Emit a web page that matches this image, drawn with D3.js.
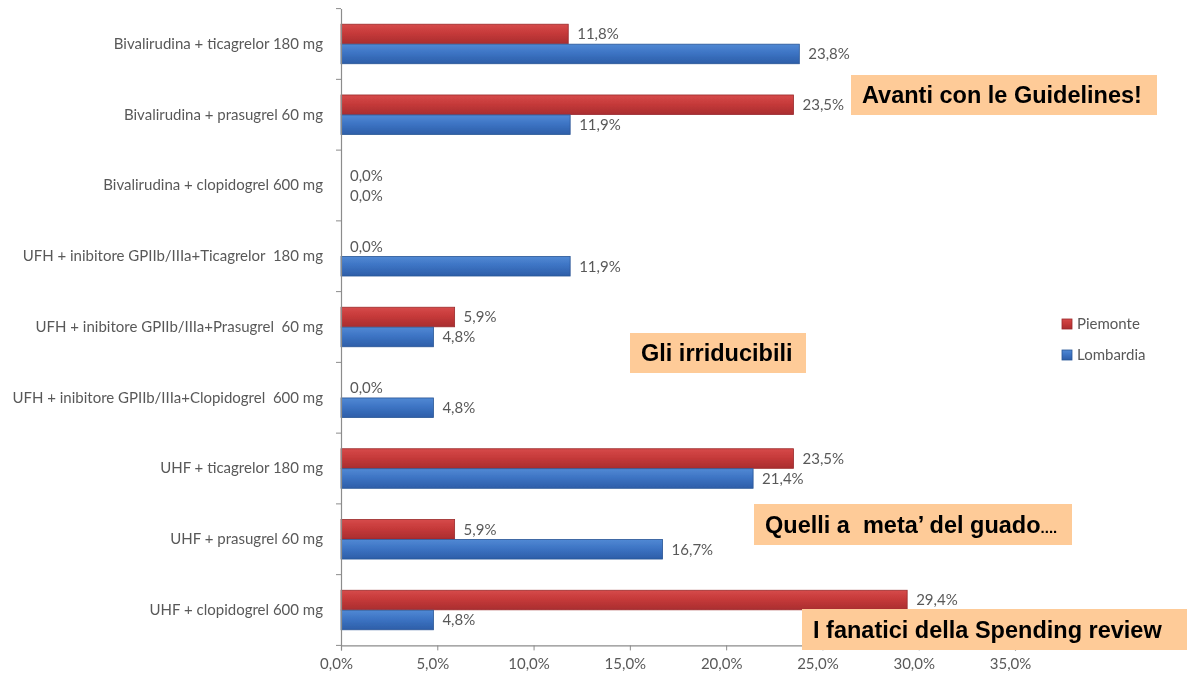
<!DOCTYPE html>
<html>
<head>
<meta charset="utf-8">
<script src="https://cdn.jsdelivr.net/npm/d3@7"></script>
<style>
  html, body { margin: 0; padding: 0; background: #ffffff; }
  svg { display: block; }
</style>
</head>
<body>
<svg id="chart" width="1187" height="678"></svg>
<script>
// Antiplatelet / anticoagulant strategy shares by region (%)
const categories = [
  "Bivalirudina + ticagrelor 180 mg",
  "Bivalirudina + prasugrel 60 mg",
  "Bivalirudina + clopidogrel 600 mg",
  "UFH + inibitore GPIIb/IIIa+Ticagrelor  180 mg",
  "UFH + inibitore GPIIb/IIIa+Prasugrel  60 mg",
  "UFH + inibitore GPIIb/IIIa+Clopidogrel  600 mg",
  "UHF + ticagrelor 180 mg",
  "UHF + prasugrel 60 mg",
  "UHF + clopidogrel 600 mg"
];
const seriesNames = ["Piemonte", "Lombardia"];
const piemonte  = [11.8, 23.5, 0.0, 0.0, 5.9, 0.0, 23.5, 5.9, 29.4];
const lombardia = [23.8, 11.9, 0.0, 11.9, 4.8, 4.8, 21.4, 16.7, 4.8];
const xTicks = [0, 5, 10, 15, 20, 25, 30, 35];

// Callout boxes placed over the plot
const callouts = [
  { text: "Avanti con le Guidelines!", tail: "" },
  { text: "Gli irriducibili", tail: "" },
  { text: "Quelli a  meta\u2019 del guado", tail: "...." },
  { text: "I fanatici della Spending review", tail: "" }
];

const svg = d3.select("#chart");
const fmt = v => d3.format(".1f")(v).replace(".", ",") + "%";

const defs = svg.append("defs");
defs.append("filter").attr("id", "soft")
  .attr("x", "-5%").attr("y", "-5%").attr("width", "110%").attr("height", "110%")
  .append("feGaussianBlur").attr("stdDeviation", 0.7);

const palettes = [
  { id: "gRed",  top: "#d64a4a", mid: "#c63a3a", bot: "#a92d2f", edge: "#9a2a2c" },
  { id: "gBlue", top: "#5189d4", mid: "#3d74c4", bot: "#2d5ea8", edge: "#2a5696" }
];
palettes.forEach(p => {
  const g = defs.append("linearGradient").attr("id", p.id)
    .attr("x1", 0).attr("y1", 0).attr("x2", 0).attr("y2", 1);
  g.append("stop").attr("offset", "0%").attr("stop-color", p.top);
  g.append("stop").attr("offset", "45%").attr("stop-color", p.mid);
  g.append("stop").attr("offset", "100%").attr("stop-color", p.bot);
});

const x = d3.scaleLinear().domain([0, 35]).range([341, 1015]);
const y = d3.scaleBand().domain(categories).range([8.6, 645.4])
  .paddingInner(0.43).paddingOuter(0.215);
const ySub = d3.scaleBand().domain(seriesNames).range([0, y.bandwidth()]).padding(0.02);

const textColor = "#595959";
const font = "Lato, 'Open Sans', sans-serif";
const fs = 15;

const chart = svg.append("g").attr("filter", "url(#soft)");

// Bars
const rows = categories.map((c, i) => ({ c, vals: [piemonte[i], lombardia[i]] }));
const groups = chart.selectAll("g.cat").data(rows).join("g")
  .attr("class", "cat")
  .attr("transform", d => `translate(0,${y(d.c)})`);

groups.each(function(d) {
  const g = d3.select(this);
  d.vals.forEach((v, si) => {
    const s = seriesNames[si];
    const w = x(v) - x(0);
    if (w > 0) {
      g.append("rect")
        .attr("x", x(0)).attr("y", ySub(s))
        .attr("width", w).attr("height", ySub.bandwidth())
        .attr("fill", `url(#${palettes[si].id})`)
        .attr("stroke", palettes[si].edge).attr("stroke-width", 0.8);
    }
    g.append("text")
      .attr("x", x(v) + 9)
      .attr("y", ySub(s) + ySub.bandwidth() / 2)
      .attr("dy", "0.36em")
      .attr("font-family", font).attr("font-size", fs)
      .attr("fill", textColor)
      .text(fmt(v));
  });
});

// Y axis (category axis)
const yAxis = d3.axisLeft(y).tickSize(0).tickPadding(18);
const yg = chart.append("g").attr("transform", `translate(${x(0)},0)`).call(yAxis);
yg.select(".domain").attr("stroke", "#8c8c8c").attr("stroke-width", 1.2);
yg.selectAll(".tick text").attr("font-family", font).attr("font-size", fs)
  .attr("fill", textColor).style("white-space", "pre");
// Boundary ticks between categories
const bounds = categories.map(c => y(c) - y.step() * y.paddingInner() / 2);
bounds.push(y(categories[categories.length - 1]) + y.bandwidth() + y.step() * y.paddingInner() / 2);
yg.selectAll("line.bound").data(bounds).join("line").attr("class", "bound")
  .attr("x1", -5).attr("x2", 0).attr("y1", d => d).attr("y2", d => d)
  .attr("stroke", "#8c8c8c");

// X axis
const xAxis = d3.axisBottom(x).tickValues(xTicks).tickSize(5).tickPadding(8)
  .tickFormat(fmt);
const xg = chart.append("g").attr("transform", `translate(0,${bounds[bounds.length - 1]})`).call(xAxis);
xg.select(".domain").attr("stroke", "#8c8c8c").attr("stroke-width", 1.2);
xg.selectAll(".tick line").attr("stroke", "#8c8c8c");
xg.selectAll(".tick text").attr("font-family", font).attr("font-size", fs)
  .attr("fill", textColor).attr("dx", -5);

// Legend
const legend = chart.append("g").attr("transform", "translate(1062,319)");
seriesNames.forEach((s, i) => {
  const lg = legend.append("g").attr("transform", `translate(0,${i * 31})`);
  lg.append("rect").attr("width", 10).attr("height", 10)
    .attr("fill", `url(#${palettes[i].id})`).attr("stroke", palettes[i].edge).attr("stroke-width", 0.8);
  lg.append("text").attr("x", 15).attr("y", 5).attr("dy", "0.36em")
    .attr("font-family", font).attr("font-size", fs).attr("fill", textColor).text(s);
});

// Callouts
const boxes = [
  { x: 851, y: 75, w: 306, h: 40 },
  { x: 630, y: 333, w: 176, h: 40 },
  { x: 754, y: 504, w: 318, h: 41 },
  { x: 802, y: 609, w: 385, h: 41 }
];
const cg = svg.append("g");
callouts.forEach((c, i) => {
  const b = boxes[i];
  cg.append("rect").attr("x", b.x).attr("y", b.y).attr("width", b.w).attr("height", b.h)
    .attr("fill", "#fecb98");
  const t = cg.append("text")
    .attr("x", b.x + 11).attr("y", b.y + b.h / 2).attr("dy", "0.36em")
    .attr("font-family", "'Liberation Sans', Arial, sans-serif")
    .attr("font-weight", "bold").attr("font-size", 23.5).attr("fill", "#000")
    .style("white-space", "pre");
  t.append("tspan").text(c.text);
  if (c.tail) t.append("tspan").attr("font-size", 15).text(c.tail);
});
</script>
</body>
</html>
